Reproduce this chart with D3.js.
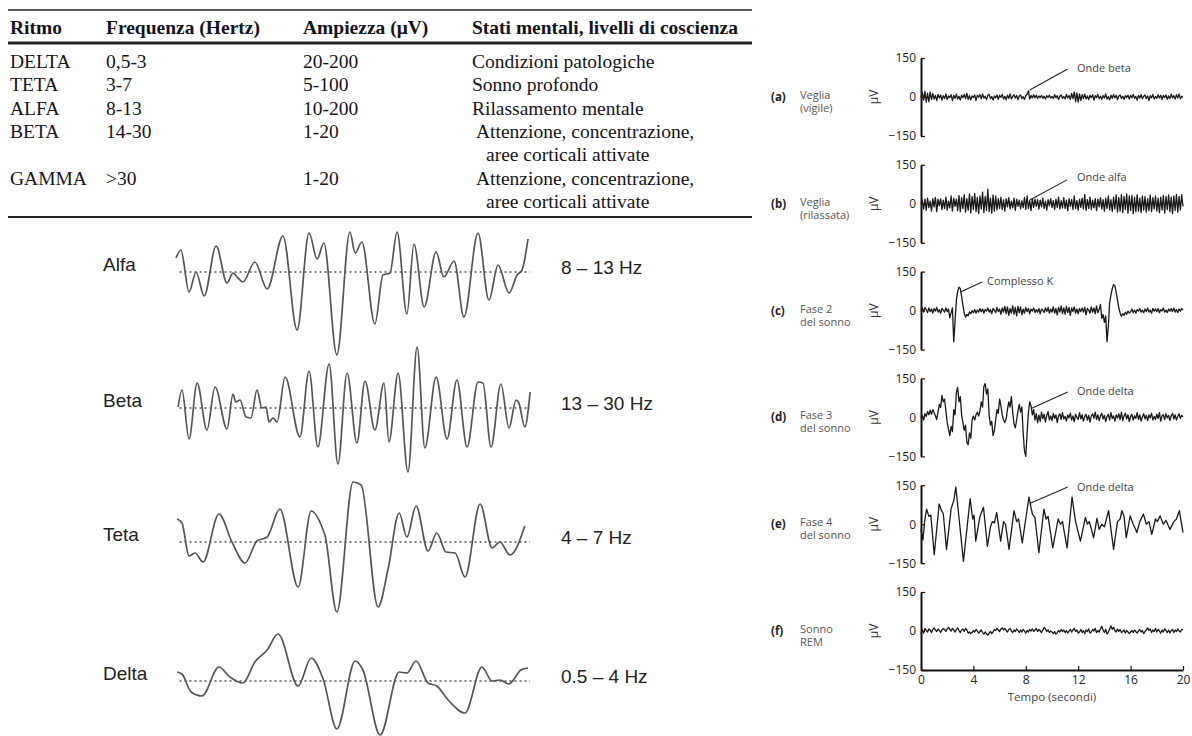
<!DOCTYPE html>
<html><head><meta charset="utf-8">
<script src="https://cdn.jsdelivr.net/npm/d3@7"></script>
<style>html,body{margin:0;padding:0;background:#fff;}svg{display:block;}</style>
</head><body>
<script>
// ---------- TABLE DATA ----------
const tableHeaders = ["Ritmo", "Frequenza (Hertz)", "Ampiezza (μV)", "Stati mentali, livelli di coscienza"];
const rhythms = ["DELTA", "TETA", "ALFA", "BETA", "GAMMA"];
const frequencies = ["0,5-3", "3-7", "8-13", "14-30", ">30"];
const amplitudes = ["20-200", "5-100", "10-200", "1-20", "1-20"];
const mentalStates = [
  ["Condizioni patologiche"],
  ["Sonno profondo"],
  ["Rilassamento mentale"],
  ["Attenzione, concentrazione,", "aree corticali attivate"],
  ["Attenzione, concentrazione,", "aree corticali attivate"]
];

// ---------- LEFT WAVEFORMS (time ms, amplitude) ----------
const waveNames = ["Alfa", "Beta", "Teta", "Delta"];
const waveBands = ["8 – 13 Hz", "13 – 30 Hz", "4 – 7 Hz", "0.5 – 4 Hz"];
const alfaWave = [[0,14],[14,22],[37,-20],[57,0],[80,-24],[114,26],[145,-11],[162,-1],[176,-6],[190,-10],[224,10],[259,-17],[304,36],[344,-58],[378,39],[401,13],[420,29],[457,-83],[494,40],[509,19],[528,30],[565,-52],[588,-3],[608,-1],[628,40],[656,-42],[676,28],[705,-35],[739,20],[761,-5],[790,11],[818,-45],[858,39],[889,-28],[915,7],[946,-21],[969,-3],[983,2],[1000,33]];
const betaWave = [[6,1],[17,18],[37,-31],[60,25],[88,-22],[111,21],[145,-21],[162,14],[170,6],[182,8],[199,-9],[213,-10],[230,18],[244,0],[256,1],[264,-14],[276,-10],[287,-14],[310,31],[352,-29],[378,37],[403,-39],[435,44],[460,-56],[486,35],[514,-35],[537,27],[565,-22],[591,25],[605,-34],[631,35],[659,-64],[685,61],[707,-40],[739,31],[770,-31],[798,28],[827,-39],[858,26],[872,25],[895,-39],[923,24],[946,-20],[966,8],[974,5],[991,-19],[1006,16]];
const tetaWave = [[3,23],[17,19],[37,-14],[54,-11],[77,-20],[122,28],[159,0],[196,-21],[230,1],[259,5],[295,33],[347,-45],[384,31],[418,12],[423,7],[457,-70],[503,60],[526,57],[574,-65],[602,-28],[634,29],[656,5],[682,36],[716,-9],[741,9],[767,-10],[793,-11],[821,-35],[864,38],[898,-6],[920,0],[949,-13],[991,16]];
const deltaWave = [[3,9],[17,7],[43,-11],[74,-15],[122,14],[153,4],[190,-2],[224,19],[259,31],[290,47],[347,-5],[384,23],[418,2],[457,-48],[509,20],[531,11],[580,-54],[634,9],[656,8],[682,20],[716,-2],[741,-5],[773,-19],[821,-32],[869,14],[898,0],[920,1],[946,-3],[980,11],[1000,13]];
const leftWaves = [alfaWave, betaWave, tetaWave, deltaWave];

// ---------- RIGHT EEG PANELS (µV, samples every 0.1 s from 0 to 20 s) ----------
const panelLetters = ["(a)", "(b)", "(c)", "(d)", "(e)", "(f)"];
const panelStates = [["Veglia","(vigile)"],["Veglia","(rilassata)"],["Fase 2","del sonno"],["Fase 3","del sonno"],["Fase 4","del sonno"],["Sonno","REM"]];
const yTicks = [-150, 0, 150];
const xTicks = [0, 4, 8, 12, 16, 20];
const sampleStep = 0.1;
const traceA = [0,18,-12,22,-20,15,-18,20,-10,14,-8,6,-14,10,-4,8,-12,5,-6,12,-10,4,-2,9,-14,6,-5,11,-8,3,-12,7,-3,10,-6,14,-9,5,-11,4,-2,8,-13,6,0,9,-7,12,-4,3,-10,5,11,-6,2,-12,4,-3,8,-9,6,-1,10,-8,3,-11,7,-5,12,-7,2,9,-4,6,-10,3,8,-6,1,-9,5,11,24,-8,6,-4,9,-3,7,-6,4,-2,6,-5,3,-8,5,-1,7,-4,2,-6,9,-3,5,-10,3,8,-5,2,-7,10,-4,6,-9,14,-6,20,-18,16,-20,12,-14,9,-6,11,-8,4,-10,7,-3,9,-12,5,-2,10,-7,3,-9,6,-4,12,-8,2,-11,7,-5,9,-3,6,-10,4,8,-6,3,-9,5,-2,7,-8,6,-3,10,-5,2,-12,6,-4,9,-7,3,8,-6,4,-14,5,-3,10,-8,2,-5,9,-4,7,-10,6,-2,8,-9,4,-6,11,-3,5,-8,9,-4,12,-7,3,-2];
const traceB = [0,15,-20,18,-25,22,-15,10,-28,20,-12,25,-30,18,-8,20,-22,14,-18,26,-24,10,-16,30,-28,22,-10,18,-26,32,-30,24,-18,35,-32,20,-25,38,-35,28,-22,40,-30,25,-38,30,-20,45,-34,28,-26,55,-30,22,-36,34,-28,30,-24,20,-18,26,-22,15,-28,20,-12,24,-20,10,-16,22,-25,18,-10,14,-20,12,-15,25,-22,30,-18,12,-26,20,-14,18,-10,16,-20,14,-12,22,-18,10,-24,16,-8,20,-15,12,-22,18,-14,26,-20,12,-16,24,-18,14,-26,20,-10,16,-22,30,-18,12,-24,18,-14,22,-20,36,-25,16,-18,26,-22,14,-16,20,-26,18,-12,24,-20,16,-28,22,-18,30,-24,16,-30,26,-20,34,-32,24,-28,36,-34,28,-22,38,-36,30,-26,32,-38,26,-30,35,-28,22,-34,30,-24,28,-32,20,-26,34,-30,24,-20,30,-28,22,-34,26,-24,32,-36,28,-22,34,-30,26,-38,30,-26,36,-32,28,-24,35,-10];
const traceC = [0,10,-6,12,4,-8,10,-4,6,-10,8,-2,12,-6,4,-10,8,2,-6,10,-4,6,-28,-8,10,-120,-40,40,75,90,85,55,20,-10,-25,-15,-20,-5,-12,0,-8,4,-10,2,-6,8,-4,6,-10,4,-2,10,-6,4,-12,8,2,-8,12,-4,6,-14,10,-6,16,-12,14,-18,8,-10,18,-14,12,-20,16,-8,14,-16,6,-10,12,-4,8,-12,6,-2,10,-8,4,-6,8,-12,6,2,-8,10,-4,12,-10,6,-6,14,-10,8,-16,12,-6,18,-12,10,-14,16,-8,12,-18,10,-4,14,-10,6,-12,8,-4,10,-6,12,-16,8,2,-10,14,-6,10,-12,18,-8,4,24,-30,-15,-45,-20,-120,-60,30,60,85,100,95,70,40,10,-10,-22,-12,-18,-6,-14,-2,-10,-4,6,-8,2,-10,4,-2,8,-6,2,-8,6,-4,10,-6,2,-10,8,-2,6,-4,8,-8,4,-2,10,-6,2,-8,6,-2,8,-4,10,-6,4,-8,6,-2,8,2];
const traceD = [0,8,-10,14,4,22,10,28,12,30,18,6,-8,20,50,38,85,60,70,25,-20,-45,-70,-35,-55,30,10,95,115,60,80,10,-20,-50,-30,-95,-105,-60,-80,-10,5,-10,10,20,5,25,60,40,120,130,90,110,10,-30,-15,-70,-50,-10,30,15,70,45,10,-10,-20,-5,30,60,40,80,20,-25,-40,-10,25,50,20,40,-60,-130,-150,-60,20,60,45,10,30,-10,15,-20,10,-15,20,-5,12,-18,8,22,-10,6,-12,15,-4,10,-20,6,14,-8,18,-6,4,-14,10,-2,16,-10,6,-16,12,0,-8,18,-6,10,-14,4,12,-10,8,-18,6,14,-4,20,-8,10,-12,6,16,-6,8,-16,4,12,-10,18,-4,6,-14,10,-2,14,-8,20,-12,6,16,-6,10,-16,4,12,-10,6,-4,18,-8,10,-14,2,14,-6,8,-12,10,-2,16,-10,4,-8,12,-4,18,-14,6,10,-8,14,-2,8,-12,6,16,-6,10,-10,4,14,-4,8,2];
const traceE = [[0,-20],[0.15,-60],[0.3,20],[0.43,58],[0.6,30],[0.75,35],[1.01,-117],[1.39,78],[1.55,55],[1.7,40],[1.95,-97],[2.3,60],[2.5,90],[2.66,143],[3.24,-143],[3.75,98],[3.95,20],[4.05,35],[4.18,-65],[4.5,30],[4.77,65],[5.07,-85],[5.3,-10],[5.45,10],[5.6,5],[5.78,45],[6.08,-65],[6.3,10],[6.45,0],[6.72,-97],[7.1,52],[7.3,10],[7.45,20],[7.73,-72],[8.24,104],[8.5,40],[8.7,25],[9.0,-110],[9.38,58],[9.55,20],[9.7,30],[10.06,-91],[10.47,20],[10.65,0],[10.8,10],[11.15,-91],[11.53,104],[11.8,10],[12.17,-65],[12.55,26],[12.7,0],[12.85,10],[13.18,-52],[13.43,22],[13.6,-20],[13.8,0],[14.0,-10],[14.32,52],[14.7,-97],[15.0,10],[15.2,20],[15.34,52],[15.5,30],[15.67,-52],[15.97,32],[16.2,0],[16.48,-32],[16.7,10],[16.98,39],[17.2,0],[17.4,10],[17.62,-39],[17.9,20],[18.05,10],[18.25,32],[18.5,0],[18.7,15],[19.01,-20],[19.3,10],[19.5,20],[19.72,52],[20,-32]];
const traceF = [-10,5,-8,10,2,-4,8,4,-6,6,12,4,-2,8,2,-6,4,10,6,-2,8,14,6,0,10,4,-4,6,12,2,-6,4,8,-2,10,4,-8,-4,-10,-6,2,-4,6,0,-8,-2,4,-6,-12,-4,-10,-16,-8,-2,-10,-4,6,2,10,4,-2,8,12,4,10,2,-4,6,10,0,-6,4,-2,8,2,-6,4,-4,6,0,-8,2,-4,6,0,8,-2,4,10,-2,6,0,-6,4,14,8,-2,4,-6,0,-4,-10,-2,-12,-6,2,-4,6,-2,4,-6,2,-8,0,6,-4,4,10,-2,4,-8,-4,6,-6,2,-10,4,-2,8,-8,-4,6,0,10,-6,2,-4,8,18,4,-6,6,-12,-4,8,20,6,14,2,-4,8,-2,6,-6,-2,4,-8,2,-4,-10,-4,2,-6,4,-2,-8,0,6,-4,2,-10,-2,4,12,2,8,-6,4,-2,10,-4,6,0,-8,4,-4,8,2,-6,4,-8,2,6,-6,4,-2,8,0,-4,6,4];
const toPairs = arr => arr.map((v, i) => [i * sampleStep, v]);
const panelTraces = [toPairs(traceA), toPairs(traceB), toPairs(traceC), toPairs(traceD), traceE, toPairs(traceF)];
// annotations in data coords (seconds, µV)
const annotations = [
  {panel:0, text:"Onde beta",   from:[8.3,27],  to:[11.2,108], label:[11.9,111]},
  {panel:1, text:"Onde alfa",   from:[8.3,15],  to:[11.15,92], label:[11.9,103]},
  {panel:2, text:"Complesso K", from:[2.98,71], to:[4.66,110], label:[5.04,114]},
  {panel:3, text:"Onde delta",  from:[8.45,35], to:[11.2,98],  label:[11.9,101]},
  {panel:4, text:"Onde delta",  from:[8.3,80],  to:[11.2,143], label:[11.9,143]}
];

// ---------- DRAW ----------
const W = 1192, H = 736;
const svg = d3.select("body").append("svg").attr("width", W).attr("height", H);
svg.append("rect").attr("width", W).attr("height", H).attr("fill", "#fff");

// Table
const colX = [10, 106, 303, 472];
const rowStep = 23.3, firstBase = 68;
const tg = svg.append("g").attr("font-family", "'Liberation Serif','Times New Roman',serif").attr("fill", "#141420").attr("font-size", 19.5);
tg.selectAll("text.h").data(tableHeaders).join("text").attr("class","h")
  .attr("x", (d, i) => colX[i]).attr("y", 34).attr("font-weight", "bold").text(d => d);
let lineIdx = 0;
rhythms.forEach((r, i) => {
  const yb = firstBase + rowStep * lineIdx;
  tg.append("text").attr("x", colX[0]).attr("y", yb).text(r);
  tg.append("text").attr("x", colX[1]).attr("y", yb).text(frequencies[i]);
  tg.append("text").attr("x", colX[2]).attr("y", yb).text(amplitudes[i]);
  mentalStates[i].forEach((s, j) => {
    const x = j === 0 ? (mentalStates[i].length > 1 ? colX[3] + 4 : colX[3]) : colX[3] + 14;
    tg.append("text").attr("x", x).attr("y", yb + rowStep * j).text(s);
  });
  lineIdx += mentalStates[i].length;
});
[[10, 1.4], [43, 3], [217, 2]].forEach(([y, w]) => {
  svg.append("line").attr("x1", 8).attr("x2", 752).attr("y1", y).attr("y2", y)
    .attr("stroke", "#222").attr("stroke-width", w);
});

// Left waveforms
const lx = d3.scaleLinear().domain([0, 1000]).range([176, 528]);
const baselines = [272, 408, 542, 681];
const lg = svg.append("g");
leftWaves.forEach((wave, i) => {
  const b = baselines[i];
  const ly = d3.scaleLinear().domain([-100, 100]).range([b + 100, b - 100]);
  lg.append("line").attr("x1", lx(10)).attr("x2", lx(1000) + 2).attr("y1", ly(0)).attr("y2", ly(0))
    .attr("stroke", "#555").attr("stroke-width", 1.5).attr("stroke-dasharray", "2,3");
  lg.append("path").datum(wave)
    .attr("d", d3.line().x(d => lx(d[0])).y(d => ly(d[1])).curve(d3.curveMonotoneX))
    .attr("fill", "none").attr("stroke", "#555").attr("stroke-width", 1.7);
  lg.append("text").attr("x", 103).attr("y", b - 1).attr("font-family", "'Liberation Sans',Arial,sans-serif")
    .attr("font-size", 19).attr("fill", "#222").text(waveNames[i]);
  lg.append("text").attr("x", 561).attr("y", b + 2).attr("font-family", "'Liberation Sans',Arial,sans-serif")
    .attr("font-size", 19).attr("fill", "#222").text(waveBands[i]);
});

// Right EEG panels
const rx = d3.scaleLinear().domain([0, 20]).range([921, 1183]);
const fmt = d => d < 0 ? "−" + Math.abs(d) : String(d);
const sans = "'Open Sans','Noto Sans',sans-serif";
const panelScales = [];
panelTraces.forEach((trace, i) => {
  const top = 58 + i * 106.8;
  const y = d3.scaleLinear().domain([-150, 150]).range([top + 78, top]);
  panelScales.push(y);
  const g = svg.append("g");
  const ax = g.append("g").attr("transform", `translate(${rx(0)},0)`)
    .call(d3.axisLeft(y).tickValues(yTicks).tickSize(-4).tickSizeOuter(0).tickPadding(5).tickFormat(fmt));
  ax.attr("font-family", sans).attr("font-size", 12);
  ax.select(".domain").attr("stroke", "#111").attr("stroke-width", 2);
  ax.selectAll(".tick line").attr("stroke", "#111").attr("stroke-width", 1.2);
  ax.selectAll(".tick text").attr("fill", "#222");
  g.append("path").datum(trace)
    .attr("d", d3.line().x(d => rx(d[0])).y(d => y(d[1])))
    .attr("fill", "none").attr("stroke", "#1a1a1a").attr("stroke-width", 1.3).attr("stroke-linejoin", "round");
  const y0 = y(0);
  g.append("text").attr("x", 771).attr("y", y0 + 4).attr("font-family", sans).attr("font-size", 11.5)
    .attr("font-weight", "bold").attr("fill", "#222").text(panelLetters[i]);
  panelStates[i].forEach((s, j) => {
    g.append("text").attr("x", 800).attr("y", y0 + 2 + j * 13).attr("font-family", sans)
      .attr("font-size", 11).attr("fill", "#555").text(s);
  });
  g.append("text").attr("transform", `translate(878,${y0}) rotate(-90)`).attr("text-anchor", "middle")
    .attr("font-family", sans).attr("font-size", 12).attr("fill", "#333").text("μV");
  if (i === panelTraces.length - 1) {
    const xa = g.append("g").attr("transform", `translate(0,${y(-150)})`)
      .call(d3.axisBottom(rx).tickValues(xTicks).tickSize(-4).tickSizeOuter(0).tickPadding(5));
    xa.attr("font-family", sans).attr("font-size", 12);
    xa.select(".domain").attr("stroke", "#111").attr("stroke-width", 2);
    xa.selectAll(".tick line").attr("stroke", "#111").attr("stroke-width", 1.2);
    xa.selectAll(".tick text").attr("fill", "#222");
    g.append("text").attr("x", rx(10)).attr("y", y(-150) + 31).attr("text-anchor", "middle")
      .attr("font-family", sans).attr("font-size", 11.5).attr("fill", "#444").text("Tempo (secondi)");
  }
});
annotations.forEach(a => {
  const y = panelScales[a.panel];
  svg.append("line").attr("x1", rx(a.from[0])).attr("y1", y(a.from[1]))
    .attr("x2", rx(a.to[0])).attr("y2", y(a.to[1])).attr("stroke", "#222").attr("stroke-width", 1.1);
  svg.append("text").attr("x", rx(a.label[0])).attr("y", y(a.label[1]) + 4)
    .attr("font-family", sans).attr("font-size", 11).attr("fill", "#444").text(a.text);
});
</script>
</body></html>
